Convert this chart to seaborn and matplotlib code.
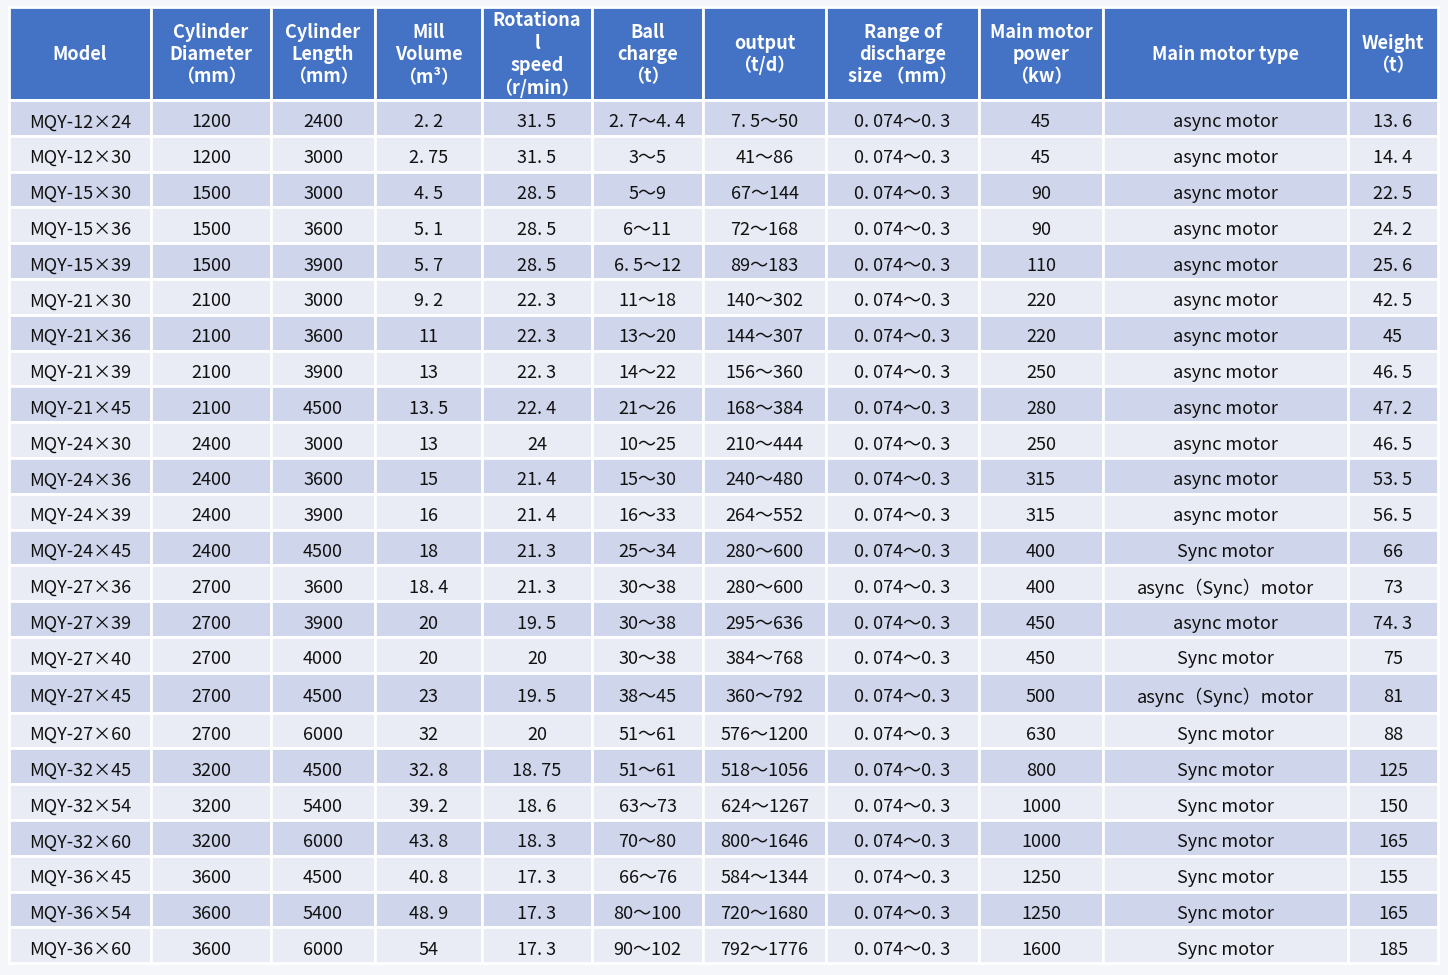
import matplotlib
matplotlib.use("Agg")
import matplotlib.pyplot as plt
from matplotlib.patches import Rectangle
import seaborn as sns

header_color = "#4472C4"
odd_color = "#CFD5EA"
even_color = "#E9EBF5"
page_color = "#F5F6FA"

headers = ["Model", "Cylinder\nDiameter\n（mm）", "Cylinder\nLength\n（mm）",
           "Mill\nVolume\n（m³）", "Rotationa\nl\nspeed\n（r/min）",
           "Ball\ncharge\n（t）", "output\n（t/d）", "Range of\ndischarge\nsize （mm）",
           "Main motor\npower\n（kw）", "Main motor type", "Weight\n（t）"]

models = ["MQY-12×24", "MQY-12×30", "MQY-15×30", "MQY-15×36", "MQY-15×39",
          "MQY-21×30", "MQY-21×36", "MQY-21×39", "MQY-21×45", "MQY-24×30",
          "MQY-24×36", "MQY-24×39", "MQY-24×45", "MQY-27×36", "MQY-27×39",
          "MQY-27×40", "MQY-27×45", "MQY-27×60", "MQY-32×45", "MQY-32×54",
          "MQY-32×60", "MQY-36×45", "MQY-36×54", "MQY-36×60"]
diameter = ["1200", "1200", "1500", "1500", "1500", "2100", "2100", "2100",
            "2100", "2400", "2400", "2400", "2400", "2700", "2700", "2700",
            "2700", "2700", "3200", "3200", "3200", "3600", "3600", "3600"]
length = ["2400", "3000", "3000", "3600", "3900", "3000", "3600", "3900",
          "4500", "3000", "3600", "3900", "4500", "3600", "3900", "4000",
          "4500", "6000", "4500", "5400", "6000", "4500", "5400", "6000"]
volume = ["2.2", "2.75", "4.5", "5.1", "5.7", "9.2", "11", "13", "13.5", "13",
          "15", "16", "18", "18.4", "20", "20", "23", "32", "32.8", "39.2",
          "43.8", "40.8", "48.9", "54"]
speed = ["31.5", "31.5", "28.5", "28.5", "28.5", "22.3", "22.3", "22.3", "22.4",
         "24", "21.4", "21.4", "21.3", "21.3", "19.5", "20", "19.5", "20",
         "18.75", "18.6", "18.3", "17.3", "17.3", "17.3"]
ball_charge = ["2.7～4.4", "3～5", "5～9", "6～11", "6.5～12", "11～18", "13～20",
               "14～22", "21～26", "10～25", "15～30", "16～33", "25～34", "30～38",
               "30～38", "30～38", "38～45", "51～61", "51～61", "63～73", "70～80",
               "66～76", "80～100", "90～102"]
output = ["7.5～50", "41～86", "67～144", "72～168", "89～183", "140～302",
          "144～307", "156～360", "168～384", "210～444", "240～480", "264～552",
          "280～600", "280～600", "295～636", "384～768", "360～792", "576～1200",
          "518～1056", "624～1267", "800～1646", "584～1344", "720～1680",
          "792～1776"]
discharge = ["0.074～0.3"] * 24
power = ["45", "45", "90", "90", "110", "220", "220", "250", "280", "250", "315",
         "315", "400", "400", "450", "450", "500", "630", "800", "1000", "1000",
         "1250", "1250", "1600"]
motor_type = ["async motor"] * 12 + ["Sync motor", "async（Sync）motor",
              "async motor", "Sync motor", "async（Sync）motor"] + ["Sync motor"] * 7
weight = ["13.6", "14.4", "22.5", "24.2", "25.6", "42.5", "45", "46.5", "47.2",
          "46.5", "53.5", "56.5", "66", "73", "74.3", "75", "81", "88", "125",
          "150", "165", "155", "165", "185"]

columns = [models, diameter, length, volume, speed, ball_charge, output,
           discharge, power, motor_type, weight]

# layout (pixels)
col_widths = [142, 120, 104, 107, 110, 111, 123, 153, 124, 245, 90]
left, top = 9, 7
header_h = 93
row_h = [35.8] * 24
row_h[16] = 39.8

sns.set_theme(style="white")
plt.rcParams['font.family'] = ['Noto Sans CJK SC', 'DejaVu Sans']

fig = plt.figure(figsize=(14.48, 9.75), dpi=100)
fig.patch.set_facecolor(page_color)
ax = fig.add_axes([0, 0, 1, 1])
ax.set_xlim(0, 1448)
ax.set_ylim(975, 0)
ax.axis("off")

x_edges = [left]
for w in col_widths:
    x_edges.append(x_edges[-1] + w)

# header
for j, text in enumerate(headers):
    ax.add_patch(Rectangle((x_edges[j], top), col_widths[j], header_h,
                           facecolor=header_color, edgecolor="white", lw=2))
    ax.text(x_edges[j] + col_widths[j] / 2, top + header_h / 2 + 1, text,
            ha="center", va="center", color="white", fontsize=13,
            fontweight="bold", linespacing=1.22)

# body
y = top + header_h
for i in range(len(models)):
    color = odd_color if i % 2 == 0 else even_color
    for j, col in enumerate(columns):
        ax.add_patch(Rectangle((x_edges[j], y), col_widths[j], row_h[i],
                               facecolor=color, edgecolor="white", lw=2))
        # the source font leaves a gap after the decimal point
        label = col[i].replace(".", ". ")
        ax.text(x_edges[j] + col_widths[j] / 2, y + row_h[i] / 2 + 4.5, label,
                ha="center", va="center", color="#111111", fontsize=13)
    y += row_h[i]

fig.savefig("out.png", dpi=100, facecolor=page_color)
